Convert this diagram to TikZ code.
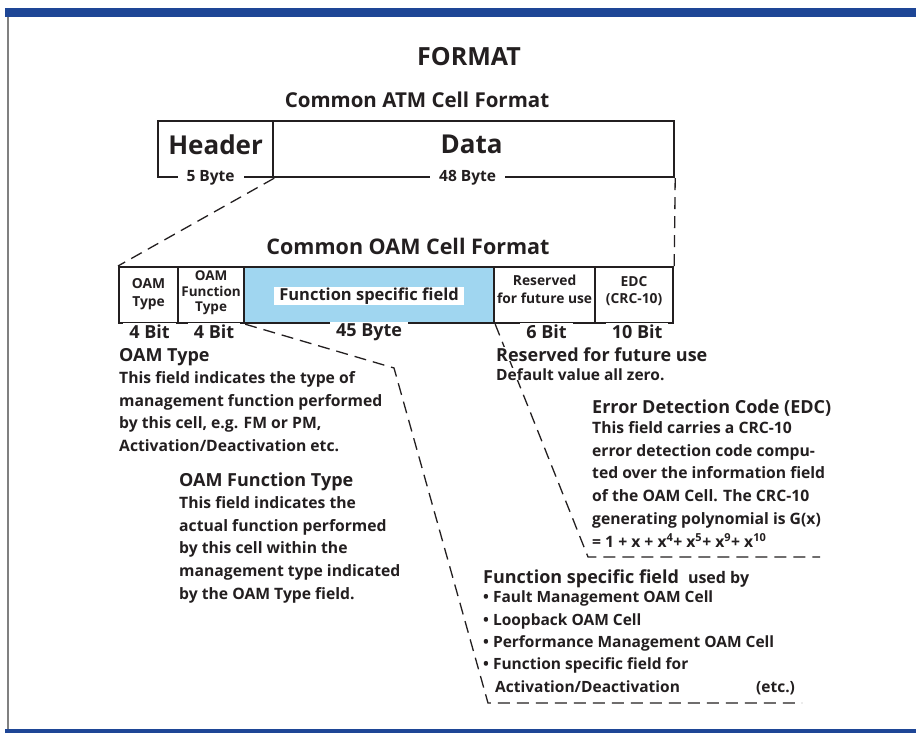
\documentclass[tikz,border=0pt]{standalone}
\usepackage{fontspec}
\setmainfont{Open Sans}
\usetikzlibrary{positioning}

\definecolor{barblue}{RGB}{30,70,150}
\definecolor{fieldblue}{RGB}{160,214,240}
\definecolor{ink}{RGB}{35,31,32}

\newcommand*{\titlefont}{\fontsize{18}{22}\selectfont\bfseries}
\newcommand*{\bodyfont}{\fontsize{15.7}{22.8}\selectfont\bfseries}

\begin{document}
\begin{tikzpicture}[
  x=1pt, y=-1pt,
  every node/.style={text=ink},
  cell/.style={draw=ink, line width=2.2pt, anchor=north west, minimum height=56pt, inner sep=0pt},
  celltext/.style={font=\fontsize{13.8}{17.5}\selectfont\bfseries, align=center},
  bigtext/.style={font=\fontsize{26}{30}\selectfont\bfseries},
  sizelabel/.style={fill=white, inner xsep=6pt, inner ysep=2pt, font=\fontsize{18}{20}\selectfont\bfseries},
  guide/.style={draw=ink, line width=1.3pt, dash pattern=on 12pt off 7pt},
  blocktitle/.style={anchor=base west, inner sep=0pt, font=\titlefont},
  blockbody/.style={anchor=north west, inner sep=0pt, align=left, font=\bodyfont},
]
  \useasboundingbox (0,0) rectangle (916,738);
  \fill[white] (0,0) rectangle (916,738);

  % frame
  \fill[barblue] (5,8) rectangle (916,17);
  \draw[gray, line width=1.5pt] (8,17) -- (8,729);
  \fill[barblue] (5,729) rectangle (916,733);

  % headings
  \node[font=\fontsize{25}{28}\selectfont\bfseries] (format) at (469,57) {FORMAT};
  \node[font=\fontsize{20.5}{24}\selectfont\bfseries] (atmtitle) at (417,100) {Common ATM Cell Format};
  \node[font=\fontsize{21.5}{24}\selectfont\bfseries] (oamtitle) at (408,246) {Common OAM Cell Format};

  % ATM cell
  \node[cell, minimum width=115pt,
    label={[bigtext, yshift=4.5pt]center:Header}] (hdr) at (157,120) {};
  \node[cell, minimum width=401pt,
    label={[bigtext, yshift=4.5pt, xshift=-2pt]center:Data}] (data) at (272,120) {};
  \node[sizelabel, font=\fontsize{15.5}{18}\selectfont\bfseries, inner xsep=9pt] (hdrsize) at ([xshift=-5pt]hdr.south) {5 Byte};
  \node[sizelabel, font=\fontsize{15.5}{18}\selectfont\bfseries, inner xsep=9pt] (datasize) at ([xshift=-6pt]data.south) {48 Byte};

  % OAM cell
  \node[cell, minimum width=59pt,
    label={[celltext, yshift=1pt]center:OAM\\Type}] (oamt) at (118,266) {};
  \node[cell, minimum width=66pt,
    label={[celltext, font=\fontsize{13.5}{15.5}\selectfont\bfseries, yshift=2pt]center:OAM\\Function\\Type}] (oamft) at (177,266) {};
  \node[cell, minimum width=250pt, fill=fieldblue,
    label={[celltext, font=\fontsize{16.5}{20}\selectfont\bfseries, fill=white, inner xsep=5pt, inner ysep=1pt, yshift=-1pt]center:Function specific field}] (fsf) at (243,266) {};
  \node[cell, minimum width=101pt,
    label={[celltext, yshift=6pt]center:Reserved\\for future use}] (rsv) at (493,266) {};
  \node[cell, minimum width=78pt,
    label={[celltext, yshift=4pt]center:EDC\\(CRC-10)}] (edc) at (594,266) {};

  \node[sizelabel] (oamtsize) at ([yshift=-8pt, xshift=1pt]oamt.south) {4 Bit};
  \node[sizelabel] (oamftsize) at ([yshift=-8pt, xshift=3pt]oamft.south) {4 Bit};
  \node[sizelabel] (fsfsize) at ([yshift=-8pt]fsf.south) {45 Byte};
  \node[sizelabel] (rsvsize) at ([yshift=-8pt, xshift=2pt]rsv.south) {6 Bit};
  \node[sizelabel] (edcsize) at ([yshift=-8pt, xshift=3pt]edc.south) {10 Bit};

  % guide lines
  \coordinate (fsfknee) at (394,368);
  \coordinate (fsfcorner) at (488,703);
  \coordinate (fsfend) at (802,703);
  \coordinate (edccorner) at (588,557);
  \coordinate (edcend) at (820,557);

  \draw[guide] (hdr.south east) -- (oamt.north west);
  \draw[guide] (data.south east) -- (edc.north east);
  \draw[guide] (oamft.south east) -- (fsfknee) -- (fsfcorner) -- (fsfend);
  \draw[guide] (fsf.south east) -- (edccorner) -- (edcend);

  % OAM Type
  \node[blocktitle] (oamtypeT) at (119,361) {OAM Type};
  \node[blockbody] (oamtypeB) at (119,371) {This field indicates the type of\\
    management function performed\\by this cell, e.g. FM or PM,\\
    Activation/Deactivation etc.};

  % OAM Function Type
  \node[blocktitle] (functypeT) at (179,486) {OAM Function Type};
  \node[blockbody] (functypeB) at (179,496) {This field indicates the\\
    actual function performed\\by this cell within the\\
    management type indicated\\by the OAM Type field.};

  % Reserved
  \node[blocktitle, fill=white] (rsvT) at (496,361) {Reserved for future use};
  \node[blockbody, fill=white, font=\fontsize{15.5}{22.8}\selectfont\bfseries] (rsvB) at (496,368) {Default value all zero.};

  % EDC
  \node[blocktitle] (edcT) at (592,413) {Error Detection Code (EDC)};
  \node[blockbody] (edcB) at (592,421) {This field carries a CRC-10\\
    error detection code compu-\\ted over the information field\\
    of the OAM Cell. The CRC-10\\generating polynomial is G(x)\\
    = 1 + x + x\textsuperscript{4}+ x\textsuperscript{5}+ x\textsuperscript{9}+ x\textsuperscript{10}};

  % Function specific field
  \node[blocktitle] (fsfT) at (483,583) {Function specific field\hspace{9pt}{\fontsize{16}{20}\selectfont used by}};
  \node[blockbody, font=\fontsize{15.5}{22.3}\selectfont\bfseries] (fsfB) at (483,591) {• Fault Management OAM Cell\\
    • Loopback OAM Cell\\• Performance Management OAM Cell\\
    • Function specific field for\\
    \hspace*{12pt}\makebox[261pt][l]{Activation/Deactivation}(etc.)};
\end{tikzpicture}
\end{document}
